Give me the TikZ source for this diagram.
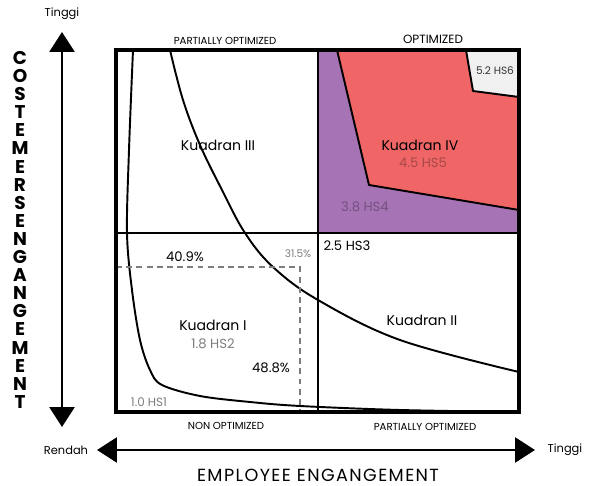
\documentclass[tikz,border=0pt]{standalone}
\usepackage{fontspec}
\setmainfont{Poppins}
\usetikzlibrary{arrows.meta,positioning}
\definecolor{qRed}   {RGB}{240,102,102}
\definecolor{qPurple}{RGB}{166,115,181}
\definecolor{qGrayL} {RGB}{240,240,240}
\definecolor{qText}  {RGB}{125,125,125}
\definecolor{qDash}  {RGB}{125,125,125}

\begin{document}
\begin{tikzpicture}[
  x=0.02cm, y=-0.02cm,
  every node/.style={font=\fontsize{7}{8}\selectfont, inner sep=1pt},
  >={Triangle[length=4mm,width=5mm]},
  frame/.style={line width=2.6pt},
  divider/.style={line width=1.7pt},
  curve/.style={line width=1.1pt},
  guide/.style={draw=qDash,line width=1.1pt,dash pattern=on 3.4pt off 2.4pt},
  quad/.style={font=\fontsize{8}{9}\selectfont},
  hs/.style={text=qText,font=\fontsize{7.5}{9}\selectfont},
  faint/.style={text=black,text opacity=0.3},
  level/.style={font=\fontsize{5.8}{7}\selectfont},
  pct/.style={font=\fontsize{7.5}{9}\selectfont},
  axis/.style={line width=1.6pt,<->},
  axislabel/.style={font=\fontsize{6.5}{8}\selectfont},
  vletter/.style={font=\fontsize{10.5}{11}\selectfont\bfseries,inner sep=0pt}
]
\useasboundingbox (0,0) rectangle (593,486);

% optimized quadrant
\fill[qPurple] (318,50) rectangle (519,233);
\fill[qRed] (337,50) -- (369,185) -- (519,210) -- (519,97) -- (473,91) -- (466,50) -- cycle;
\fill[qGrayL] (466,50) -- (473,91) -- (519,97) -- (519,50) -- cycle;
\draw[curve,line join=round] (337,50) -- (369,185) -- (519,210);
\draw[curve,line join=round] (466,50) -- (473,91) -- (519,97);

% curves
\draw[curve] plot[smooth,tension=0.55] coordinates {(133,50) (129,150) (127,233)
  (132,290) (140,340) (150,370) (162,385) (200,396) (250,402) (300,406) (400,410) (519,412)};
\draw[curve] plot[smooth,tension=0.6] coordinates {(170,50) (183,100) (200,145)
  (222,190) (245,233) (273,267) (318,300) (400,340) (519,372)};

% dashed guide
\draw[guide] (116,267) -| (300,412);

% grid
\draw[divider] (318,50) -- (318,412);
\draw[divider] (116,233) -- (519,233);
\draw[frame] (116,50) rectangle (519,412);

% quadrant texts
\node[level] (pTop) at (225,41) {PARTIALLY OPTIMIZED};
\node[level,font=\fontsize{6.8}{8}\selectfont] (oTop) at (433,39) {OPTIMIZED};
\node[level] (nBot) at (226,426) {NON OPTIMIZED};
\node[level] (pBot) at (425,427) {PARTIALLY OPTIMIZED};

\node[quad] (Q3) at (218,145) {Kuadran III};
\node[quad] (Q4) at (420,145) {Kuadran IV};
\node[quad] (Q1) at (213,325) {Kuadran I};
\node[quad] (Q2) at (422,320) {Kuadran II};

\node[hs,faint] (HS5) at (423,163) {4.5 HS5};
\node[hs,faint] (HS4) at (365,207) {3.8 HS4};
\node[hs,text=black!80,font=\fontsize{6}{7}\selectfont] (HS6) at (495,71) {5.2 HS6};
\node[hs,text=black] (HS3) at (347,246) {2.5 HS3};
\node[hs] (HS2) at (213,344) {1.8 HS2};
\node[hs,font=\fontsize{6.8}{8}\selectfont] (HS1) at (149,402) {1.0 HS1};

\node[pct] (P409) at (185,257) {40.9\%};
\node[pct,text=qText,font=\fontsize{6}{7}\selectfont] (P315) at (298,254) {31.5\%};
\node[pct] (P488) at (271,368) {48.8\%};

% axes
\coordinate (yLow)  at (62,427);
\coordinate (yHigh) at (62,32);
\coordinate (xLow)  at (97,450);
\coordinate (xHigh) at (535,450);
\draw[axis] (yLow) -- (yHigh);
\draw[axis] (xLow) -- (xHigh);
\node[axislabel] (yTop) at (62,14) {Tinggi};
\node[axislabel] (xLeft) at (66,450) {Rendah};
\node[axislabel] (xRight) at (565,450) {Tinggi};
\node[font=\fontsize{10}{11}\selectfont\addfontfeature{LetterSpace=8}] (xName) at (318,475) {EMPLOYEE ENGANGEMENT};

\foreach \ch [count=\i] in {C,O,S,T,E,M,E,R,S,E,N,G,A,N,G,E,M,E,N,T}
  \node[vletter] (v\i) at (20,{58+(\i-1)*18.1}) {\ch};
\end{tikzpicture}
\end{document}
